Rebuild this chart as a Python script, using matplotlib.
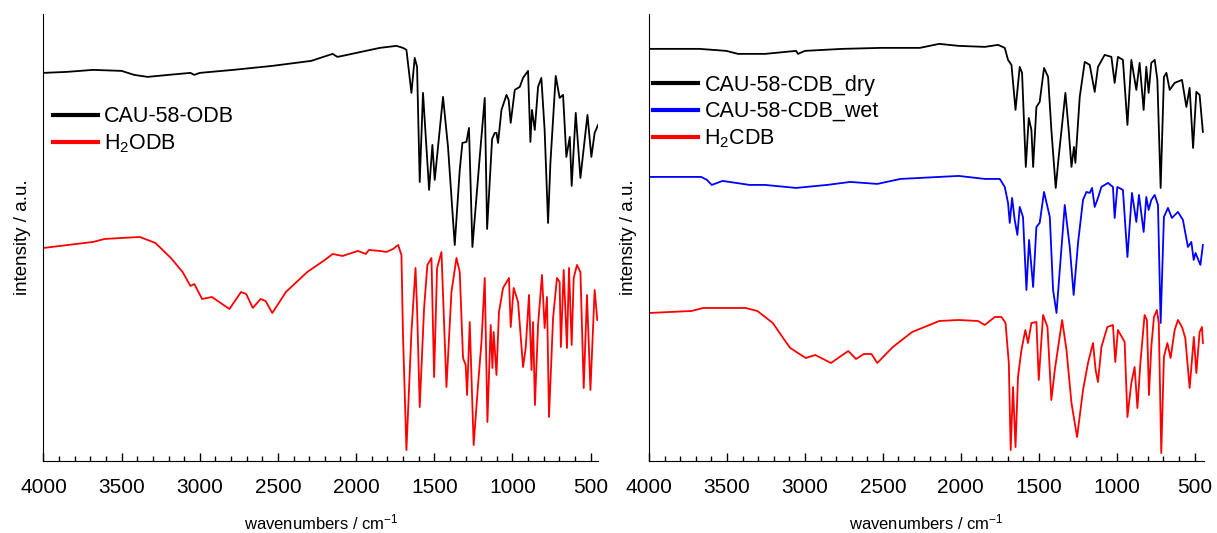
import matplotlib
matplotlib.use('Agg')
import matplotlib.pyplot as plt
from matplotlib.lines import Line2D
from matplotlib.ticker import MultipleLocator

plt.rcParams['font.family'] = ['Liberation Sans', 'DejaVu Sans']
plt.rcParams['mathtext.default'] = 'regular'

# ---- data (wavenumber / cm-1, intensity in a.u.) ----
odb_mof_wn = [4000, 3850, 3683, 3500, 3420, 3334, 3200, 3060, 3035, 3000, 2786, 2536, 2287, 2150, 2120,
              2087, 1938, 1848, 1742, 1700, 1678, 1646, 1625, 1610, 1593, 1572, 1533, 1512, 1497, 1444,
              1412, 1369, 1337, 1320, 1294, 1278, 1256, 1209, 1177, 1162, 1130, 1113, 1102, 1092, 1070,
              1038, 1024, 1011, 985, 953, 932, 900, 885, 875, 857, 836, 815, 794, 772, 757, 723, 698,
              676, 655, 633, 621, 595, 565, 520, 495, 474, 452]
odb_mof_int = [388, 389, 391, 390, 386, 384, 386, 388, 386, 388, 391, 395, 400, 407, 404,
               405, 410, 413, 415, 413, 411, 368, 403, 394, 279, 368, 271, 316, 281, 364,
               314, 216, 291, 318, 319, 333, 214, 304, 363, 232, 322, 328, 328, 318, 351,
               366, 361, 338, 371, 374, 383, 390, 319, 351, 331, 374, 383, 331, 238, 298, 385, 363,
               366, 304, 324, 275, 348, 283, 346, 304, 328, 336]

h2odb_wn = [4000, 3683, 3608, 3384, 3284, 3185, 3110, 3060, 3035, 2985, 2923, 2810, 2736, 2703, 2661,
            2611, 2579, 2536, 2449, 2312, 2200, 2150, 2087, 1988, 1938, 1918, 1848, 1806, 1763, 1731,
            1710, 1700, 1678, 1646, 1620, 1610, 1593, 1565, 1544, 1518, 1501, 1482, 1454, 1422, 1390,
            1358, 1337, 1316, 1299, 1290, 1273, 1248, 1220, 1198, 1177, 1160, 1139, 1128, 1120, 1102,
            1086, 1060, 1022, 1011, 992, 964, 932, 915, 894, 878, 868, 856, 836, 811, 794, 779, 766,
            740, 715, 698, 690, 672, 651, 638, 621, 608, 587, 565, 544, 523, 501, 474, 457]
h2odb_int = [213, 219, 222, 224, 218, 203, 189, 175, 177, 162, 164, 152, 169, 167, 153,
             162, 160, 148, 169, 189, 201, 207, 205, 210, 207, 211, 210, 209, 212, 216,
             206, 126, 11, 129, 193, 153, 54, 153, 196, 203, 84, 193, 209, 74, 169,
             203, 189, 103, 96, 66, 139, 16, 76, 119, 183, 39, 136, 93, 129, 86,
             149, 173, 183, 134, 173, 159, 94, 113, 166, 91, 139, 56, 136, 186, 133, 164, 44,
             143, 183, 179, 114, 191, 113, 193, 116, 183, 196, 189, 73, 166, 71, 171, 141]

cdb_dry_wn = [4000, 3677, 3504, 3429, 3255, 3057, 3044, 3000, 2759, 2511, 2263, 2138, 2014, 1846, 1761,
              1718, 1697, 1675, 1649, 1622, 1607, 1583, 1564, 1547, 1536, 1515, 1494, 1466, 1440, 1419,
              1391, 1372, 1329, 1308, 1290, 1274, 1265, 1237, 1205, 1173, 1141, 1120, 1077, 1034, 1013,
              992, 960, 931, 906, 874, 853, 827, 810, 795, 778, 756, 739, 718, 697, 681, 660, 628,
              581, 553, 532, 510, 489, 468, 447]
cdb_dry_int = [412, 412, 410, 407, 407, 410, 407, 410, 412, 413, 413, 417, 415, 414, 416,
               413, 401, 396, 351, 394, 388, 294, 343, 331, 294, 354, 359, 393, 384, 331,
               273, 304, 368, 331, 294, 314, 298, 364, 399, 396, 369, 394, 406, 404, 378,
               404, 401, 336, 401, 371, 398, 351, 394, 368, 398, 401, 381, 273, 384, 388, 371, 378,
               381, 354, 373, 313, 369, 366, 329]

cdb_wet_wn = [4000, 3665, 3628, 3598, 3528, 3355, 3255, 3057, 2858, 2709, 2536, 2387, 2138, 2014, 1846,
              1750, 1718, 1697, 1686, 1671, 1654, 1637, 1622, 1601, 1579, 1562, 1536, 1515, 1494, 1466,
              1429, 1408, 1386, 1365, 1333, 1301, 1276, 1248, 1216, 1194, 1173, 1158, 1141, 1120, 1098,
              1056, 1024, 1013, 996, 960, 931, 902, 874, 857, 827, 810, 795, 778, 756, 735, 718, 697,
              671, 646, 607, 575, 543, 521, 506, 494, 476, 463, 447]
cdb_wet_int = [284, 284, 281, 276, 280, 276, 276, 273, 276, 279, 277, 282, 284, 285, 282,
               282, 274, 258, 238, 263, 241, 226, 254, 244, 171, 221, 174, 234, 238, 269,
               244, 171, 148, 191, 256, 214, 166, 218, 261, 269, 268, 273, 254, 263, 274,
               278, 274, 243, 274, 271, 204, 268, 239, 266, 229, 264, 251, 261, 266, 256, 138, 244,
               253, 243, 249, 241, 214, 219, 201, 208, 201, 196, 216]

h2cdb_wn = [4000, 3727, 3653, 3380, 3305, 3206, 3131, 3094, 2995, 2933, 2833, 2722, 2672, 2622, 2573,
            2536, 2436, 2312, 2138, 2014, 1890, 1846, 1782, 1739, 1713, 1692, 1680, 1665, 1649, 1633,
            1611, 1586, 1569, 1547, 1515, 1500, 1472, 1444, 1419, 1397, 1350, 1322, 1290, 1254, 1216,
            1184, 1152, 1135, 1120, 1098, 1060, 1024, 1009, 992, 949, 931, 906, 885, 867, 848, 821,
            806, 793, 778, 761, 742, 730, 714, 697, 675, 654, 628, 607, 581, 560, 532, 505, 489,
            468, 453, 447]
h2cdb_int = [148, 150, 153, 153, 150, 138, 121, 113, 103, 106, 98, 110, 102, 107, 107,
             98, 114, 129, 140, 141, 140, 136, 144, 144, 138, 98, 11, 74, 14, 84,
             111, 131, 118, 138, 139, 81, 146, 134, 61, 91, 141, 111, 58, 24, 71,
             98, 118, 91, 79, 114, 134, 136, 99, 131, 119, 44, 78, 94, 53, 98, 146,
             141, 66, 114, 144, 151, 138, 8, 104, 118, 103, 131, 141, 134, 123, 73, 124, 88,
             129, 134, 118]

left_labels = ['CAU-58-ODB', 'H$_2$ODB']
right_labels = ['CAU-58-CDB_dry', 'CAU-58-CDB_wet', 'H$_2$CDB']


def style_axis(ax, xmin):
    ax.set_xlim(4000, xmin)
    ax.set_ylim(0, 447)
    ax.spines['top'].set_visible(False)
    ax.spines['right'].set_visible(False)
    ax.set_yticks([])
    ax.xaxis.set_major_locator(MultipleLocator(500))
    ax.xaxis.set_minor_locator(MultipleLocator(100))
    ax.tick_params(axis='x', which='major', direction='in', length=6, width=1, labelsize=15, pad=12.5)
    ax.tick_params(axis='x', which='minor', direction='in', length=3.5, width=1)
    ax.set_xlabel('wavenumbers / cm$^{-1}$', fontsize=12, labelpad=11)
    ax.set_ylabel('intensity / a.u.', fontsize=13.5, labelpad=9)


fig = plt.figure(figsize=(12.17, 5.33), dpi=100)
ax1 = fig.add_axes([0.0357, 0.135, 0.456, 0.839])
ax2 = fig.add_axes([0.5333, 0.135, 0.456, 0.839])

ax1.plot(odb_mof_wn, odb_mof_int, color='black', lw=1.3)
ax1.plot(h2odb_wn, h2odb_int, color='red', lw=1.3)
style_axis(ax1, 450)
handles = [Line2D([], [], color=c, lw=3) for c in ['black', 'red']]
ax1.legend(handles, left_labels, loc='upper left', bbox_to_anchor=(0.001, 0.813), frameon=False,
           fontsize=15.5, handlelength=2.1, handletextpad=0.28, labelspacing=0.25, borderaxespad=0)

ax2.plot(cdb_dry_wn, cdb_dry_int, color='black', lw=1.3)
ax2.plot(cdb_wet_wn, cdb_wet_int, color='blue', lw=1.3)
ax2.plot(h2cdb_wn, h2cdb_int, color='red', lw=1.3)
style_axis(ax2, 440)
handles = [Line2D([], [], color=c, lw=3) for c in ['black', 'blue', 'red']]
ax2.legend(handles, right_labels, loc='upper left', bbox_to_anchor=(-0.008, 0.883), frameon=False,
           fontsize=15.5, handlelength=2.1, handletextpad=0.28, labelspacing=0.25, borderaxespad=0)

fig.savefig('out.png', dpi=100)
